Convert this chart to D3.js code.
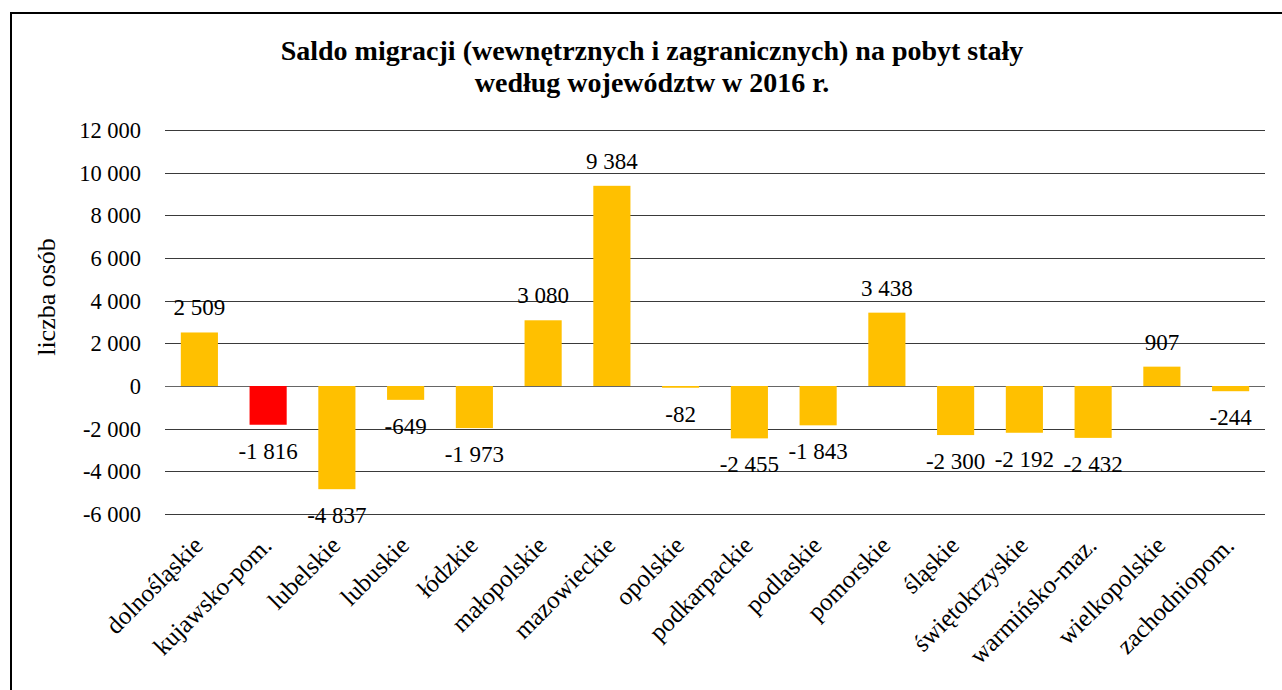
<!DOCTYPE html>
<html>
<head>
<meta charset="utf-8">
<script src="https://cdn.jsdelivr.net/npm/d3@7"></script>
<style>
    body { margin: 0; background: #fff; }
    svg { display: block; }
</style>
</head>
<body>
<svg id="chart" width="1282" height="690"></svg>
<script>
// województwa
var categories = [
    "dolnośląskie", "kujawsko-pom.", "lubelskie", "lubuskie", "łódzkie",
    "małopolskie", "mazowieckie", "opolskie", "podkarpackie", "podlaskie",
    "pomorskie", "śląskie", "świętokrzyskie", "warmińsko-maz.",
    "wielkopolskie", "zachodniopom."
];
var values = [
    2509, -1816, -4837, -649, -1973, 3080, 9384, -82, -2455, -1843,
    3438, -2300, -2192, -2432, 907, -244
];
var highlighted = ["kujawsko-pom."];
var yTicks = [-6000, -4000, -2000, 0, 2000, 4000, 6000, 8000, 10000, 12000];
var titleLines = [
    "Saldo migracji (wewnętrznych i zagranicznych) na pobyt stały",
    "według województw w 2016 r."
];
var yLabel = "liczba osób";

var FONT = "Liberation Serif";

var svg = d3.select("#chart");
var margin = { top: 130, left: 165, right: 17, bottom: 176 };
var width = 1282 - margin.left - margin.right,
    height = 690 - margin.top - margin.bottom;

// frame around the chart area (right and bottom edge fall outside the picture)
svg.append("rect")
    .attr("x", 11)
    .attr("y", 13)
    .attr("width", 1300)
    .attr("height", 700)
    .attr("fill", "none")
    .attr("stroke", "#000")
    .attr("stroke-width", 2);

var fmt = function (v) {
    var s = d3.format(",")(Math.abs(v)).replace(/,/g, " ");
    return (v < 0 ? "-" : "") + s;
};

var x = d3.scaleBand().domain(categories).range([0, width]).paddingInner(0.46).paddingOuter(0.23);
var y = d3.scaleLinear().domain([-6000, 12000]).range([height, 0]);

var g = svg.append("g").attr("transform", "translate(" + margin.left + "," + margin.top + ")");

// gridlines
g.append("g")
    .selectAll("line")
    .data(yTicks)
    .join("line")
    .attr("x1", 0)
    .attr("x2", width)
    .attr("y1", function (d) { return Math.round(y(d)) + 0.5; })
    .attr("y2", function (d) { return Math.round(y(d)) + 0.5; })
    .attr("stroke", function (d) { return d == 0 ? "#666" : "#3a3a3a"; })
    .attr("stroke-width", 1.2);

// y tick labels
var yAxis = g.append("g")
    .attr("transform", "translate(-21,0)")
    .call(d3.axisLeft(y).tickValues(yTicks).tickFormat(fmt).tickSize(0));
yAxis.select(".domain").remove();
yAxis.selectAll("text")
    .attr("dy", "0.33em")
    .attr("fill", "#000")
    .style("font-family", FONT)
    .style("font-size", "22.5px");

// bars
g.append("g")
    .selectAll("rect")
    .data(categories)
    .join("rect")
    .attr("x", function (d) { return x(d); })
    .attr("width", x.bandwidth())
    .attr("y", function (d, i) { return y(Math.max(0, values[i])); })
    .attr("height", function (d, i) { return Math.abs(y(values[i]) - y(0)); })
    .attr("fill", function (d) { return highlighted.indexOf(d) >= 0 ? "#FF0000" : "#FFC000"; });

// value labels
g.append("g")
    .selectAll("text")
    .data(categories)
    .join("text")
    .attr("x", function (d) { return x(d) + x.bandwidth() / 2; })
    .attr("y", function (d, i) {
        return values[i] >= 0 ? y(values[i]) - 17 : y(values[i]) + 34;
    })
    .attr("text-anchor", "middle")
    .style("font-family", FONT)
    .style("font-size", "23px")
    .text(function (d, i) { return fmt(values[i]); });

// category labels
g.append("g")
    .selectAll("text")
    .data(categories)
    .join("text")
    .attr("transform", function (d) {
        return "translate(" + (x(d) + x.bandwidth() / 2 + 5) + "," + (height + 33) + ") rotate(-45)";
    })
    .attr("text-anchor", "end")
    .style("font-family", FONT)
    .style("font-size", "25px")
    .text(function (d) { return d; });

// title
svg.append("g")
    .selectAll("text")
    .data(titleLines)
    .join("text")
    .attr("x", 652)
    .attr("y", function (d, i) { return 60 + i * 32; })
    .attr("text-anchor", "middle")
    .style("font-family", FONT)
    .style("font-size", "28px")
    .style("font-weight", "bold")
    .text(function (d) { return d; });

// y axis title
svg.append("text")
    .attr("transform", "translate(55,297) rotate(-90)")
    .attr("text-anchor", "middle")
    .style("font-family", FONT)
    .style("font-size", "26px")
    .text(yLabel);
</script>
</body>
</html>
